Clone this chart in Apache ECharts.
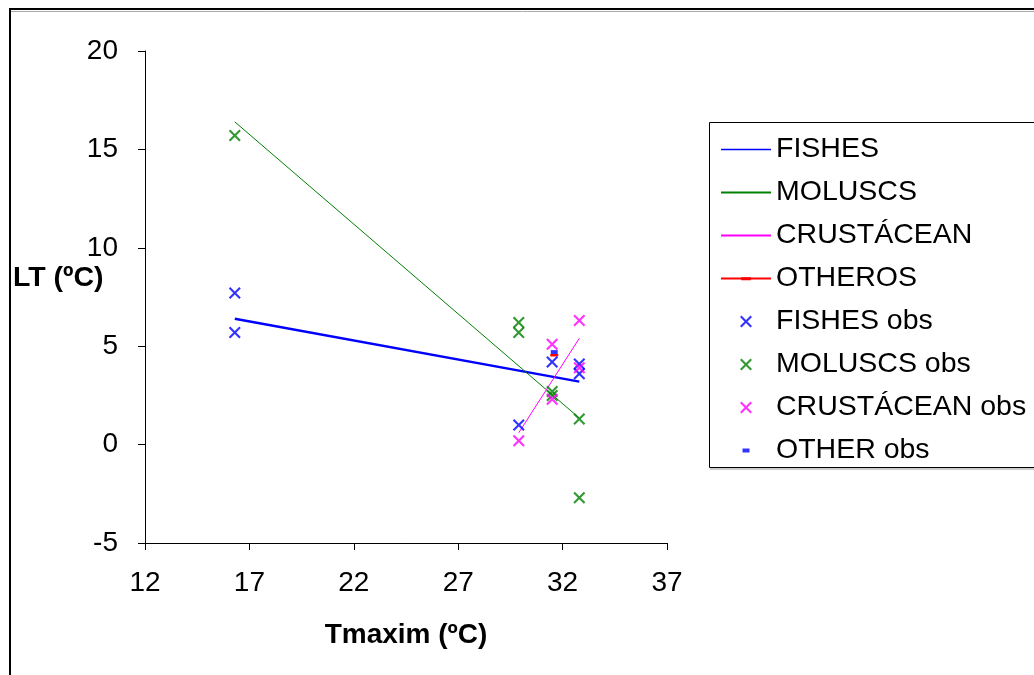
<!DOCTYPE html>
<html><head><meta charset="utf-8">
<script src="https://cdn.jsdelivr.net/npm/echarts@6/dist/echarts.min.js"></script>
<style>html,body{margin:0;padding:0;background:#fff}#c{width:1034px;height:675px}</style>
</head><body><div id="c"></div>
<script>
// ---- data ----
const xAxisTitle = 'Tmaxim (ºC)';
const yAxisTitle = 'LT (ºC)';
const xRange = [12, 37, 5];
const yRange = [-5, 20, 5];

const fishesTrend = [[16.3, 6.4], [32.8, 3.2]];
const moluscsTrend = [[16.3, 16.4], [32.8, 1.35]];
const crustaceanTrend = [[29.9, 0.6], [32.8, 5.4]];
const otherosTrend = [[31.6, 4.55]];

const fishesObs = [[16.3, 7.7], [16.3, 5.7], [29.9, 1.0], [31.5, 4.2], [32.8, 4.1], [32.8, 3.6]];
const moluscsObs = [[16.3, 15.7], [29.9, 6.2], [29.9, 5.7], [31.5, 2.7], [31.5, 2.5], [32.8, 1.3], [32.8, -2.7]];
const crustaceanObs = [[29.9, 0.2], [31.5, 5.1], [31.5, 2.3], [32.8, 6.3], [32.8, 3.9]];
const otherObs = [[31.6, 4.7]];

const lineNames = ['FISHES', 'MOLUSCS', 'CRUSTÁCEAN', 'OTHEROS'];
const obsNames = ['FISHES obs', 'MOLUSCS obs', 'CRUSTÁCEAN obs', 'OTHER obs'];

// ---- styling ----
const FONT = "'Liberation Sans', Arial, sans-serif";
const COLORS = { fish: '#0000FF', mol: '#008000', cru: '#FF00FF', oth: '#FF0000' };
const X_PATH = 'path://M0,1.25L1.25,0L5,3.75L8.75,0L10,1.25L6.25,5L10,8.75L8.75,10L5,6.25L1.25,10L0,8.75L3.75,5Z';
// square-bounded path with a flat dash in the middle
const DASH_SQ = 'path://M0,0H0.01V0.01H0Z M0,3H8V5.5H0Z M7.99,7.99H8V8H7.99Z';
// invisible symbol (two sub-pixel corner dots) for plain trend lines
const BLANK = 'path://M0,0H0.01V0.01H0Z M9.99,9.99H10V10H9.99Z';
const DASH_PATH = 'path://M0,0H8V4H0Z';
const DASH_ICON = 'path://M0,0H0.01V0.01H0Z M21.5,4H28.5V8H21.5Z M49.99,11.99H50V12H49.99Z';

const chart = echarts.init(document.getElementById('c'));

function lineSeries(name, data, color, width, extra) {
  return Object.assign({
    name, type: 'line', data, symbol: BLANK, showSymbol: false,
    color,
    lineStyle: { color, width },
    itemStyle: { color, borderWidth: 0 },
    emphasis: { disabled: true }, z: 2
  }, extra || {});
}
function obsSeries(name, data, color, symbol, size) {
  return {
    name, type: 'scatter', data, symbol, symbolSize: size, symbolKeepAspect: true,
    color,
    itemStyle: { color, borderWidth: 0 },
    emphasis: { disabled: true }, z: 3
  };
}

const legendData = [
  { name: lineNames[0], lineStyle: { width: 1.5 } },
  { name: lineNames[1] },
  { name: lineNames[2] },
  { name: lineNames[3] },
  { name: obsNames[0], icon: X_PATH },
  { name: obsNames[1], icon: X_PATH },
  { name: obsNames[2], icon: X_PATH },
  { name: obsNames[3], icon: DASH_ICON }
];

chart.setOption({
  animation: false,
  backgroundColor: '#fff',
  textStyle: { fontFamily: FONT },
  grid: { left: 145, top: 51, width: 522, height: 492, containLabel: false, outerBoundsMode: 'none' },
  title: {
    text: yAxisTitle, left: 13, top: 264, padding: 0,
    textStyle: { fontSize: 28.5, fontWeight: 'bold', color: '#000', fontFamily: FONT }
  },
  xAxis: {
    type: 'value', min: xRange[0], max: xRange[1], interval: xRange[2],
    name: xAxisTitle, nameLocation: 'middle', nameGap: 78,
    nameTextStyle: { fontSize: 28, fontWeight: 'bold', color: '#000', fontFamily: FONT },
    axisLine: { show: true, onZero: false, lineStyle: { color: '#000', width: 1 } },
    axisTick: { show: true, inside: false, length: 7, lineStyle: { color: '#000' } },
    axisLabel: { fontSize: 28, color: '#000', margin: 26, fontFamily: FONT },
    splitLine: { show: false }
  },
  yAxis: {
    type: 'value', min: yRange[0], max: yRange[1], interval: yRange[2],
    axisLine: { show: true, onZero: false, lineStyle: { color: '#000', width: 1 } },
    axisTick: { show: true, inside: false, length: 7, lineStyle: { color: '#000' } },
    axisLabel: { fontSize: 28, color: '#000', margin: 27, fontFamily: FONT },
    splitLine: { show: false }
  },
  legend: {
    orient: 'vertical', left: 720, top: 135, padding: 0,
    itemWidth: 50, itemHeight: 12, itemGap: 14,
    data: legendData,
    textStyle: { fontSize: 28.5, color: '#000', fontFamily: FONT, lineHeight: 28 },
    selectedMode: false
  },
  graphic: [
    { type: 'rect', shape: { x: 10, y: 9, width: 1100, height: 700 },
      style: { fill: 'none', stroke: '#000', lineWidth: 2 }, z: 10, silent: true },
    { type: 'line', shape: { x1: 11, y1: 11.5, x2: 1034, y2: 11.5 },
      style: { stroke: '#aaa', lineWidth: 1 }, z: 10, silent: true },
    { type: 'rect', shape: { x: 709.5, y: 122.5, width: 400, height: 345 },
      style: { fill: 'none', stroke: '#000', lineWidth: 1 }, z: 10, silent: true },
    { type: 'line', shape: { x1: 710, y1: 469, x2: 1034, y2: 469 },
      style: { stroke: '#999', lineWidth: 1 }, z: 10, silent: true }
  ],
  series: [
    lineSeries(lineNames[0], fishesTrend, COLORS.fish, 2.5),
    lineSeries(lineNames[1], moluscsTrend, COLORS.mol, 1),
    lineSeries(lineNames[2], crustaceanTrend, COLORS.cru, 1),
    lineSeries(lineNames[3], otherosTrend, COLORS.oth, 1, { symbol: DASH_SQ, symbolSize: 8, showSymbol: true, symbolKeepAspect: true }),
    obsSeries(obsNames[0], fishesObs, COLORS.fish, X_PATH, 12),
    obsSeries(obsNames[1], moluscsObs, COLORS.mol, X_PATH, 12),
    obsSeries(obsNames[2], crustaceanObs, COLORS.cru, X_PATH, 12),
    Object.assign(obsSeries(obsNames[3], otherObs, COLORS.fish, DASH_PATH, [7, 4]), { symbolKeepAspect: false, z: 1 })
  ]
});
</script>
</body></html>
